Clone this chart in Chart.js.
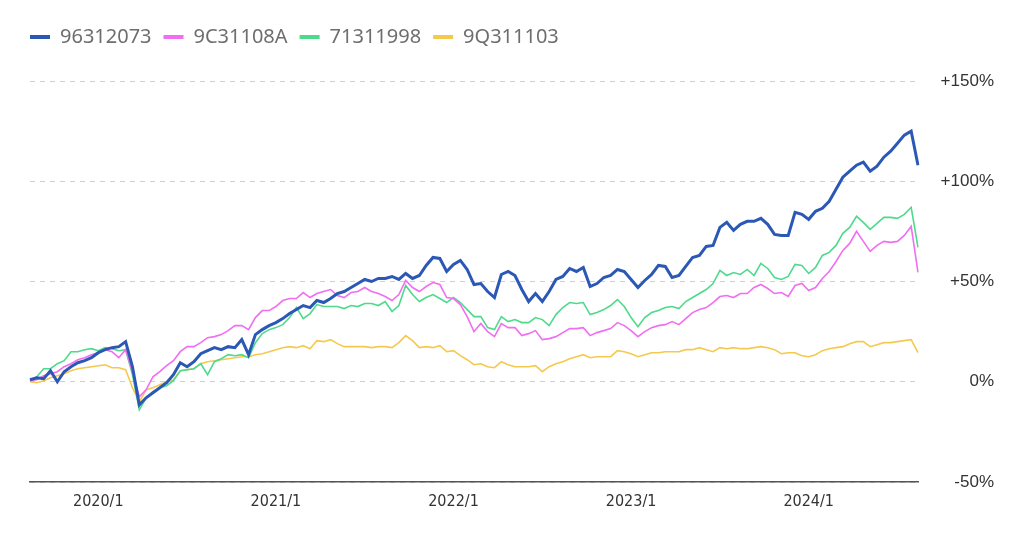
<!DOCTYPE html>
<html><head><meta charset="utf-8">
<script src="https://cdn.jsdelivr.net/npm/chart.js@4"></script>
<style>html,body{margin:0;padding:0;background:#fff;}#wrap{width:1024px;height:552px;}</style>
</head><body><div id="wrap"><canvas id="c" width="1024" height="552"></canvas></div>
<script>
// Categories: biweekly dates from 2019/8/16 to 2024/8/9
const dates = [];
(function(){ const d0 = Date.UTC(2019,7,16); for(let i=0;i<131;i++){ const d=new Date(d0+i*14*86400000); dates.push(d.getUTCFullYear()+'/'+(d.getUTCMonth()+1)+'/'+d.getUTCDate()); } })();

const seriesNames = ['96312073','9C31108A','71311998','9Q311103'];
const yTicks = [-50, 0, 50, 100, 150];

const s96312073 = [1,2,1.5,5.5,0,5,7.5,9.5,10.5,12,
14.5,16,17,17.5,20,7.5,-11.5,-8,-5.5,-3,
-0.5,3.5,9.5,7.5,10,14,15.5,17,16,17.5,
17,21,13.5,23.5,26,28,29.5,31.5,34,36,
38,37,40.5,39.5,41.5,44,45,47,49,51,
50,51.5,51.5,52.5,51,54,51.5,53,58,62,
61.5,55,58.5,60.5,56,48.5,49,45,42,53.5,
55,53,46,40,44,40,45,51,52.5,56.5,
55,57,47.5,49,52,53,56,55,51,47,
50.5,53.5,58,57.5,52,53,57.5,62,63,67.5,
68,77,79.5,75.5,78.5,80,80,81.5,78.5,73.5,
73,73,84.5,83.5,81,85,86.5,90,96,102,
105,108,109.5,105,107.5,112,115,119,123,125,
108];
const s9C31108A = [0.5,1,3,4,5,7.5,9,11,12,13.5,
14.5,16,15,12,16,5,-7.5,-4,2.5,5,
8,10.5,15,17.5,17.5,19.5,22,22.5,23.5,25.5,
28,28,26,32,35.5,35.5,37.5,40.5,41.5,41.5,
44.5,42,44,45,46,43,42,44.5,45,47,
45,44,42.5,40.5,43.5,50.5,47,45,47.5,49.5,
48.5,42,41.5,38.5,32.5,25,29,25,22.5,29,
27,27,23,24,25.5,21,21.5,22.5,24.5,26.5,
26.5,27,23,24.5,25.5,26.5,29.5,28,25.5,22.5,
25,27,28,28.5,30,28.5,31.5,34.5,36,37,
39.5,42.5,43,42,44,44,47,48.5,46.5,44,
44.5,42.5,48,49,45.5,47,51.5,55,60,65.5,
69,75,70,65,68,70,69.5,70,73,77.5,
54.5];
const s71311998 = [0.5,2.5,6.5,6.5,9,10.5,15,15,16,16.5,
15.5,17,16.5,15.5,16,3.5,-14,-8,-5,-3,
-2,0.5,5.5,6,6.5,9,3.5,10,11.5,13.5,
13,13.5,12,19.5,24,26,27,28.5,32,37,
31.5,34,38.5,37.5,37.5,37.5,36.5,38,37.5,39,
39,38,40,35,38,48,43.5,40,42,43.5,
41.5,39.5,42,39.5,36,32.5,32.5,27,26,32.5,
30,31,29.5,29.5,32,31,28,33.5,37,39.5,
39,39.5,33.5,34.5,36,38,41,37.5,32,27.5,
32,34.5,35.5,37,37.5,36.5,40,42,44,46,
49,55.5,53,54.5,53.5,56,53,59,56.5,52,
51,52.5,58.5,58,54,57,63,64.5,68,74,
77,82.5,79.5,76,79,82,82,81.5,83.5,87,
67];
const s9Q311103 = [0,-0.5,0.5,2,3,4,5.5,6.5,7,7.5,
8,8.5,7,7,6,-3,-10,-4,-3,-1.5,
0,1,5.5,6,6.5,9,10,10.5,11,11.5,
12,12.5,12.5,13.5,14,15,16,17,17.5,17,
18,16.5,20.5,20,21,19,17.5,17.5,17.5,17.5,
17,17.5,17.5,17,19.5,23,20.5,17,17.5,17,
18,15,15.5,13,11,8.5,9,7.5,7,10,
8.5,7.5,7.5,7.5,8,5,7.5,9,10,11.5,
12.5,13.5,12,12.5,12.5,12.5,15.5,15,14,12.5,
13.5,14.5,14.5,15,15,15,16,16,17,16,
15,17,16.5,17,16.5,16.5,17,17.5,17,16,
14,14.5,14.5,13,12.5,13.5,15.5,16.5,17,17.5,
19,20,20,17.5,18.5,19.5,19.5,20,20.5,21,
14.5];

const colors = ['#2b58b5','#ef6ef1','#4dda8b','#f5c94e'];
const widths = [3, 1.6, 1.6, 1.6];
const seriesData = [s96312073, s9C31108A, s71311998, s9Q311103];

const layoutFix = {
  id: 'layoutFix',
  beforeInit(chart){
    const lg = chart.legend;
    if (lg) { const orig = lg.fit; lg.fit = function(){ orig.call(this); this.height = 66; }; }
  },
  afterLayout(chart){ if (chart.legend) { chart.legend.left = 18; } }
};

new Chart(document.getElementById('c'), {
  type: 'line',
  data: {
    labels: dates,
    datasets: seriesNames.map((n,i)=>({
      label: n, data: seriesData[i], borderColor: colors[i], backgroundColor: colors[i],
      borderWidth: widths[i], pointRadius: 0, tension: 0, fill: false
    }))
  },
  options: {
    responsive: false, animation: false, devicePixelRatio: 1,
    layout: { padding: { left: 30, right: 30, top: 15, bottom: 30 } },
    plugins: {
      legend: {
        position: 'top', align: 'start',
        labels: {
          boxWidth: 20, boxHeight: 4, padding: 12, color: '#6e6e6e',
          font: { family: '"Noto Sans", "Liberation Sans", sans-serif', size: 20 },
          generateLabels(chart){
            return chart.data.datasets.map((ds,i)=>({ text: ds.label, fillStyle: ds.borderColor, strokeStyle: ds.borderColor, lineWidth: 0, hidden: false, datasetIndex: i, fontColor: '#6e6e6e' }));
          }
        }
      },
      tooltip: { enabled: false }
    },
    scales: {
      x: {
        type: 'category',
        grid: { display: false, drawTicks: false },
        border: { display: true, color: '#555', width: 1.5 },
        ticks: {
          autoSkip: false, maxRotation: 0, padding: 10, color: '#333',
          font: { family: '"Liberation Sans Narrow", "DejaVu Sans Condensed", "Liberation Sans", sans-serif', size: 16 },
          callback(v, idx){
            const p = dates[idx].split('/').map(Number);
            if (p[1] === 1 && p[2] <= 7) return p[0] + '/1';
            if (p[1] === 12 && p[2] >= 25) return (p[0]+1) + '/1';
            return null;
          }
        },
        afterFit(scale){ scale.height = 40; }
      },
      y: {
        position: 'right', min: -50, max: 150,
        afterBuildTicks(scale){ scale.ticks = yTicks.map(v=>({value:v})); },
        grid: { color: '#cfcfcf', lineWidth: 1, drawTicks: false },
        border: { display: false, dash: [5, 5] },
        ticks: {
          crossAlign: 'far', padding: 14, color: '#333',
          font: { family: '"Liberation Sans", Arial, sans-serif', size: 17 },
          callback(v){ return (v > 0 ? '+' : '') + v + '%'; }
        },
        afterFit(scale){ scale.width = 76; }
      }
    }
  },
  plugins: [layoutFix]
});
</script></body></html>
